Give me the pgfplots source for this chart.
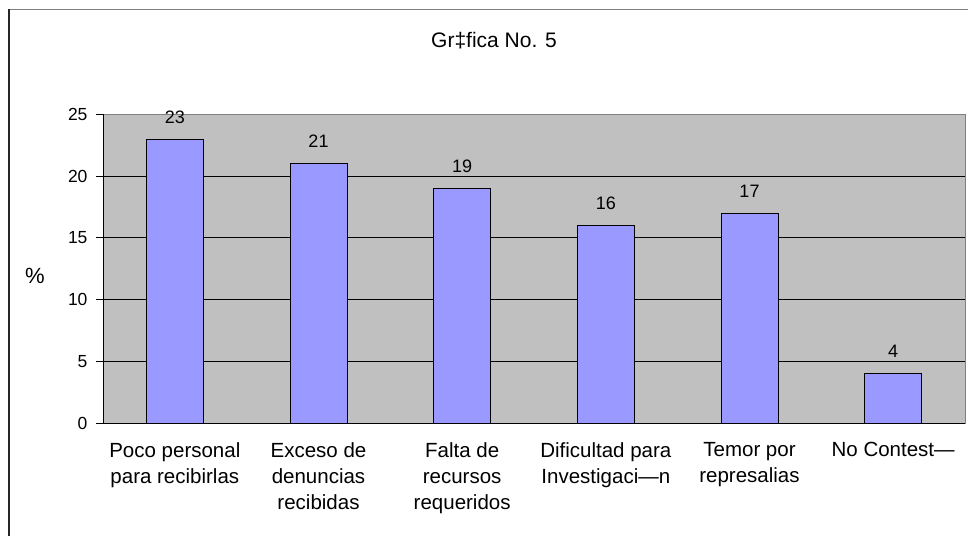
\documentclass[border=0pt]{standalone}
\usepackage{pgfplots}
\pgfplotsset{compat=1.18}
\usepackage{fontspec}
\setmainfont{Liberation Sans}
\definecolor{barblue}{HTML}{9999FF}
\definecolor{plotgray}{HTML}{C0C0C0}
\definecolor{bordergray}{HTML}{808080}
\begin{document}
\begin{tikzpicture}[x=1pt,y=1pt]
\useasboundingbox (0,0) rectangle (968,535);
\draw[bordergray, line width=1.5pt] (9,525.5) -- (975,525.5);
\draw[black!85, line width=1.2pt] (9,525.5) -- (9,-5);
\node[anchor=base, font=\fontsize{21}{24}\selectfont] at (494,487) {Gr‡fica No. 5};
\node[font=\fontsize{22}{26}\selectfont] at (35,259) {\%};
\begin{axis}[
  at={(103pt,112pt)}, anchor=south west, scale only axis,
  width=862pt, height=308.5pt,
  xmin=-0.5, xmax=5.5, ymin=0, ymax=25,
  ybar, bar width=57pt, clip=false,
  axis background/.style={fill=plotgray, draw=bordergray, line width=1pt},
  axis lines*=left,
  axis line style={black, line width=1pt, -},
  tick align=outside,
  major tick length=7pt, minor tick length=6pt,
  tick style={black, line width=1pt},
  xtick={0,...,5},
  xtick style={draw=none},
  minor xtick={-0.5,0.5,...,5.5},
  xticklabels={{Poco personal\\para recibirlas},{Exceso de\\denuncias\\recibidas},{Falta de\\recursos\\requeridos},{Dificultad para\\Investigaci—n},{Temor por\\represalias},{No Contest—}},
  x tick label style={font=\fontsize{20.5}{26}\selectfont, align=center, anchor=north, yshift=-9pt},
  ytick={0,5,10,15,20},
  extra y ticks={25},
  extra y tick style={grid=none},
  ymajorgrids,
  grid style={black, line width=0.8pt},
  y tick label style={font=\fontsize{17.5}{20}\selectfont, xshift=-5pt},
  /pgf/number format/assume math mode=true,
  nodes near coords,
  every node near coord/.append style={font=\fontsize{18}{21}\selectfont, anchor=base, yshift=16pt, black},
]
\addplot[fill=barblue, draw=black, line width=0.8pt] coordinates {(0,23) (1,21) (2,19) (3,16) (4,17) (5,4)};
\end{axis}
\end{tikzpicture}
\end{document}
